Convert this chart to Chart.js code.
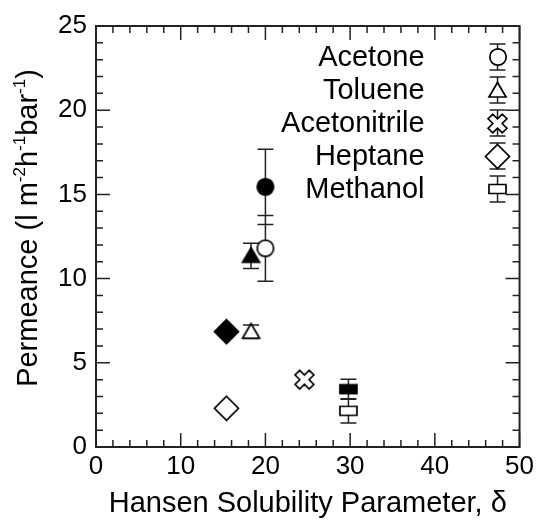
<!DOCTYPE html>
<html>
<head>
<meta charset="utf-8">
<script src="https://cdn.jsdelivr.net/npm/chart.js@4.4.0/dist/chart.umd.min.js"></script>
<style>
  html, body { margin: 0; padding: 0; background: #fff; }
</style>
</head>
<body>
<canvas id="chart" width="538" height="521"></canvas>
<script>
// ================= DATA =================
const solvents = ['Acetone', 'Toluene', 'Acetonitrile', 'Heptane', 'Methanol'];
const hansen = [20.0, 18.3, 24.6, 15.4, 29.8];
const permOpen = [11.8, 6.85, 4.0, 2.3, 2.15];
const errOpen = [1.95, 0.4, 0, 0, 0.72];
const permFilled = [15.45, 11.35, null, 6.85, 3.43];
const errFilled = [2.23, 0.75, null, 0, 0.6];
const shapes = ['circle', 'triangle', 'cross', 'diamond', 'rect'];
const xTicks = [0, 10, 20, 30, 40, 50];
const yTicks = [0, 5, 10, 15, 20, 25];

const FONT = "'Liberation Sans', Arial, sans-serif";
const INK = '#222';

// ================= MARKERS =================
function marker(shape, filled) {
    const c = document.createElement('canvas');
    const size = { circle: 20, triangle: 21, cross: 23, diamond: 27, rect: 21 }[shape];
    c.width = size;
    c.height = shape === 'rect' ? 12 : size;
    const g = c.getContext('2d');
    const cx = c.width / 2, cy = c.height / 2;
    g.lineWidth = 1.7;
    g.strokeStyle = '#000';
    g.fillStyle = filled ? '#000' : '#fff';
    g.beginPath();
    if (shape === 'circle') {
        g.arc(cx, cy, 8.2, 0, Math.PI * 2);
    } else if (shape === 'triangle') {
        g.moveTo(cx, cy - 8);
        g.lineTo(cx + 8.5, cy + 6.5);
        g.lineTo(cx - 8.5, cy + 6.5);
        g.closePath();
    } else if (shape === 'diamond') {
        g.moveTo(cx, cy - 12);
        g.lineTo(cx + 12, cy);
        g.lineTo(cx, cy + 12);
        g.lineTo(cx - 12, cy);
        g.closePath();
    } else if (shape === 'rect') {
        g.rect(cx - 8.5, cy - 4.5, 17, 9);
    } else if (shape === 'cross') {
        const a = 3.3, L = 10;
        const pts = [[-a, -L], [a, -L], [a, -a], [L, -a], [L, a], [a, a], [a, L], [-a, L], [-a, a], [-L, a], [-L, -a], [-a, -a]];
        const r = Math.SQRT1_2;
        pts.forEach(([px, py], k) => {
            const x = cx + (px - py) * r, y = cy + (px + py) * r;
            k ? g.lineTo(x, y) : g.moveTo(x, y);
        });
        g.closePath();
    }
    g.fill();
    g.stroke();
    return c;
}

// ================= DATASETS =================
const datasets = [];
solvents.forEach((name, i) => {
    if (permFilled[i] !== null) {
        datasets.push({
            label: name + ' (filled)',
            data: [{ x: hansen[i], y: permFilled[i] }],
            err: errFilled[i],
            pointStyle: marker(shapes[i], true)
        });
    }
    datasets.push({
        label: name,
        data: [{ x: hansen[i], y: permOpen[i] }],
        err: errOpen[i],
        pointStyle: marker(shapes[i], false)
    });
});

// ================= PLUGINS =================
const frame = {
    id: 'frame',
    beforeDatasetsDraw(chart) {
        const { ctx, chartArea: a, scales: { x, y } } = chart;
        ctx.save();
        ctx.strokeStyle = INK;
        ctx.lineWidth = 1.5;
        ctx.beginPath();
        for (let v = 0; v <= 50; v += 2) {
            const px = x.getPixelForValue(v);
            const len = xTicks.includes(v) ? 14 : 7;
            ctx.moveTo(px, a.bottom); ctx.lineTo(px, a.bottom - len);
            ctx.moveTo(px, a.top); ctx.lineTo(px, a.top + len);
        }
        for (let v = 0; v <= 25; v += 1) {
            const py = y.getPixelForValue(v);
            const len = yTicks.includes(v) ? 14 : 7;
            ctx.moveTo(a.left, py); ctx.lineTo(a.left + len, py);
            ctx.moveTo(a.right, py); ctx.lineTo(a.right - len, py);
        }
        ctx.stroke();
        ctx.lineWidth = 2;
        ctx.strokeRect(a.left, a.top, a.right - a.left, a.bottom - a.top);

        // error bars, under the markers
        ctx.lineWidth = 1.5;
        ctx.beginPath();
        chart.data.datasets.forEach(ds => {
            if (!ds.err) return;
            const p = ds.data[0];
            const px = x.getPixelForValue(p.x);
            const top = y.getPixelForValue(p.y + ds.err);
            const bot = y.getPixelForValue(p.y - ds.err);
            ctx.moveTo(px, top); ctx.lineTo(px, bot);
            ctx.moveTo(px - 8, top); ctx.lineTo(px + 8, top);
            ctx.moveTo(px - 8, bot); ctx.lineTo(px + 8, bot);
        });
        ctx.stroke();
        ctx.restore();
    },
    afterDraw(chart) {
        const { ctx, chartArea: a } = chart;
        ctx.save();
        // legend
        ctx.font = '29px ' + FONT;
        ctx.fillStyle = '#000';
        ctx.textAlign = 'right';
        ctx.textBaseline = 'middle';
        const mx = a.right - 22;
        solvents.forEach((name, i) => {
            const ry = a.top + 31 + i * 33;
            ctx.fillText(name, a.right - 95, ry + 1);
            ctx.strokeStyle = INK;
            ctx.lineWidth = 1.5;
            ctx.beginPath();
            ctx.moveTo(mx, ry - 13); ctx.lineTo(mx, ry + 13);
            ctx.moveTo(mx - 8, ry - 13); ctx.lineTo(mx + 8, ry - 13);
            ctx.moveTo(mx - 8, ry + 13); ctx.lineTo(mx + 8, ry + 13);
            ctx.stroke();
            const m = marker(shapes[i], false);
            ctx.drawImage(m, Math.round(mx - m.width / 2), Math.round(ry - m.height / 2));
        });

        // y axis title with superscripts
        const parts = [['Permeance (l m', 0], ['-2', 1], ['h', 0], ['-1', 1], ['bar', 0], ['-1', 1], [')', 0]];
        const big = '29px ' + FONT, small = '17px ' + FONT;
        let w = 0;
        parts.forEach(([t, s]) => { ctx.font = s ? small : big; w += ctx.measureText(t).width; });
        ctx.translate(37, 228);
        ctx.rotate(-Math.PI / 2);
        ctx.textAlign = 'left';
        ctx.textBaseline = 'alphabetic';
        let cx = -w / 2;
        parts.forEach(([t, s]) => {
            ctx.font = s ? small : big;
            ctx.fillText(t, cx, s ? -12 : 0);
            cx += ctx.measureText(t).width;
        });
        ctx.restore();
    }
};

// ================= CHART =================
new Chart(document.getElementById('chart'), {
    type: 'scatter',
    data: { datasets },
    options: {
        responsive: false,
        animation: false,
        layout: { padding: { top: 26, right: 18, left: 0, bottom: 0 } },
        plugins: { legend: { display: false }, tooltip: { enabled: false } },
        scales: {
            x: {
                type: 'linear',
                min: 0, max: 50,
                afterBuildTicks(s) { s.ticks = xTicks.map(v => ({ value: v })); },
                afterFit(s) { s.height = 74; },
                ticks: { padding: 4, color: '#000', maxRotation: 0, font: { size: 26, family: FONT } },
                grid: { display: false, drawTicks: false },
                border: { display: false },
                title: {
                    display: true,
                    text: 'Hansen Solubility Parameter, δ',
                    color: '#000',
                    font: { size: 29, family: FONT },
                    padding: { top: 0, bottom: 0 }
                }
            },
            y: {
                min: 0, max: 25,
                afterBuildTicks(s) { s.ticks = yTicks.map(v => ({ value: v })); },
                afterFit(s) { s.width = 96; },
                ticks: { padding: 9, color: '#000', font: { size: 26, family: FONT } },
                grid: { display: false, drawTicks: false },
                border: { display: false }
            }
        }
    },
    plugins: [frame]
});
</script>
</body>
</html>
